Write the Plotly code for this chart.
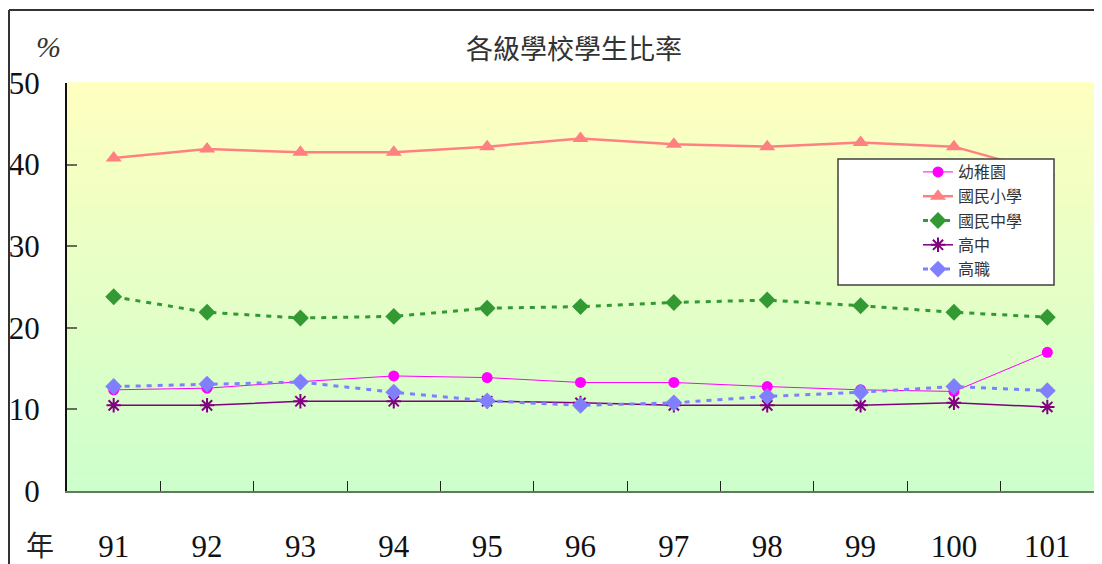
import plotly.graph_objects as go

years = ["91", "92", "93", "94", "95", "96", "97", "98", "99", "100", "101"]
kindergarten = [12.4, 12.6, 13.4, 14.1, 13.9, 13.3, 13.3, 12.8, 12.4, 12.2, 17.0]
elementary = [40.8, 41.9, 41.5, 41.5, 42.2, 43.2, 42.5, 42.2, 42.7, 42.2, 39.0]
junior_high = [23.8, 21.9, 21.2, 21.4, 22.4, 22.6, 23.1, 23.4, 22.7, 21.9, 21.3]
senior_high = [10.5, 10.5, 11.0, 11.0, 11.0, 10.8, 10.5, 10.5, 10.5, 10.8, 10.3]
vocational = [12.8, 13.1, 13.35, 12.1, 11.05, 10.5, 10.8, 11.6, 12.1, 12.8, 12.3]
series_names = ["幼稚園", "國民小學", "國民中學", "高中", "高職"]
y_ticks = [0, 10, 20, 30, 40, 50]

# page has an 8px body margin: the figure starts at screen (8, 8)
O = 8
W, H = 1102 - O, 564 - O
SL, SR, ST, SB = 67, 1094, 83, 491          # plot area in screen pixels
L, R, T, B = SL - O, W - (SR - O), ST - O, H - (SB - O)
pw, ph = W - L - R, H - T - B

def px_x(p):
    return (p - O - L) / pw

def px_y(p):
    return (H - B - (p - O)) / ph

CJK = "Noto Sans CJK TC, Noto Sans CJK SC, sans-serif"
SERIF = "Liberation Serif, Times New Roman, serif"

fig = go.Figure()

styles = [
    dict(line=dict(color="#FF00FF", width=1), marker=dict(symbol="circle", size=11, color="#FF00FF")),
    dict(line=dict(color="#FF8080", width=2.5), marker=dict(symbol="triangle-up", size=14, color="#FF8080")),
    dict(line=dict(color="#339933", width=3, dash="5px,6px"), marker=dict(symbol="diamond", size=13, color="#339933")),
    dict(line=dict(color="#800080", width=1.5), marker=dict(symbol="asterisk-open", size=12, color="#800080", line=dict(width=2, color="#800080"))),
    dict(line=dict(color="#8080FF", width=3, dash="5px,6px"), marker=dict(symbol="diamond", size=13, color="#8080FF")),
]
data = [kindergarten, elementary, junior_high, senior_high, vocational]
for name, vals, st in zip(series_names, data, styles):
    fig.add_trace(go.Scatter(x=years, y=vals, name=name, mode="lines+markers",
                             legendgroup=name, cliponaxis=False, **st))

shapes = []
# vertical gradient background (pale yellow top -> pale green bottom)
top = (0xFF, 0xFF, 0xC0)
bot = (0xCC, 0xFF, 0xCC)
n = 80
for i in range(n):
    f = (i + 0.5) / n
    c = tuple(round(bot[k] + (top[k] - bot[k]) * f) for k in range(3))
    shapes.append(dict(type="rect", xref="paper", yref="paper", x0=0, x1=1,
                       y0=i / n, y1=(i + 1) / n + 0.002, line=dict(width=0),
                       fillcolor="rgb(%d,%d,%d)" % c, layer="below"))
# outer frame (top and left)
shapes.append(dict(type="line", xref="paper", yref="paper", x0=px_x(9), x1=px_x(1104),
                   y0=px_y(10), y1=px_y(10), line=dict(color="#333333", width=2)))
shapes.append(dict(type="line", xref="paper", yref="paper", x0=px_x(9), x1=px_x(9),
                   y0=px_y(10), y1=px_y(566), line=dict(color="#333333", width=2)))
# legend box
shapes.append(dict(type="rect", xref="paper", yref="paper", x0=px_x(838), x1=px_x(1054),
                   y0=px_y(285), y1=px_y(159), line=dict(color="#404040", width=1.5),
                   fillcolor="white", layer="above"))

ann = dict(xref="paper", yref="paper", showarrow=False, xanchor="center", yanchor="middle")
fig.update_layout(
    width=W, height=H,
    margin=dict(l=L, r=R, t=T, b=B, autoexpand=False),
    paper_bgcolor="white",
    plot_bgcolor="#E6FFC6",
    shapes=shapes,
    showlegend=True,
    legend=dict(x=px_x(918), y=px_y(155), xanchor="left", yanchor="top",
                bgcolor="rgba(0,0,0,0)", borderwidth=0, tracegroupgap=0.5,
                traceorder="grouped",
                font=dict(family=CJK, size=16, color="#333333")),
    annotations=[
        dict(text="各級學校學生比率", x=px_x(574), y=px_y(47),
             font=dict(family=CJK, size=27, color="#333333"), **ann),
        dict(text="<i>%</i>", x=px_x(48), y=px_y(46),
             font=dict(family=SERIF, size=30, color="#333333"), **ann),
        dict(text="年", x=px_x(40), y=px_y(544),
             font=dict(family=CJK, size=28, color="#222222"), **ann),
    ],
)

fig.update_xaxes(
    type="category", range=[-0.5, len(years) - 0.5], automargin=False,
    showline=True, linecolor="#5F7A5F", linewidth=2,
    ticks="inside", tickson="boundaries", ticklen=10, tickcolor="#222222", tickwidth=1,
    showgrid=False, zeroline=False,
    tickfont=dict(family=SERIF, size=31, color="#111111"),
    ticklabelstandoff=27,
)
fig.update_yaxes(
    range=[0, 50], tickvals=y_ticks, automargin=False,
    showline=True, linecolor="#111111", linewidth=2,
    ticks="inside", ticklen=10, tickcolor="#6B6B5B", tickwidth=2,
    showgrid=False, zeroline=False,
    tickfont=dict(family=SERIF, size=31, color="#111111"),
    ticklabelstandoff=19,
)

fig.write_html("out.html")
